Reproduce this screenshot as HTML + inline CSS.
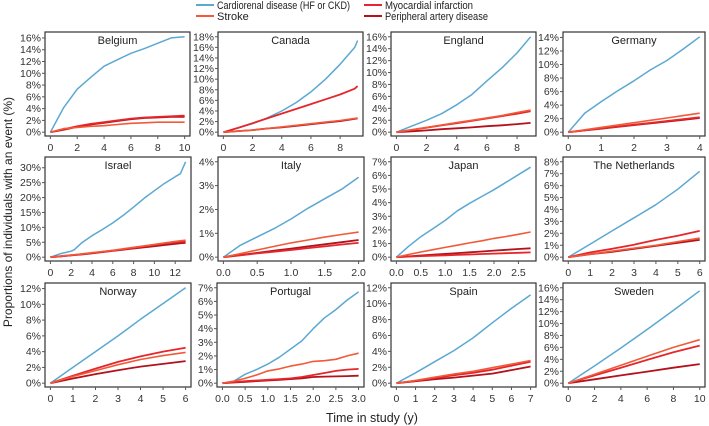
<!DOCTYPE html>
<html><head><meta charset="utf-8">
<style>
html,body{margin:0;padding:0;background:#fff;}
svg{display:block;font-family:"Liberation Sans",sans-serif;}
</style></head>
<body>
<svg id="chart" width="709" height="426" viewBox="0 0 709 426">
  <g>
    <g><line x1="196" y1="5" x2="214" y2="5" stroke="#5ba8d2" stroke-width="2"/><text x="217" y="9" font-size="11" textLength="133" lengthAdjust="spacingAndGlyphs" fill="#222">Cardiorenal disease (HF or CKD)</text></g>
    <g><line x1="196" y1="16" x2="214" y2="16" stroke="#f2593a" stroke-width="2"/><text x="217" y="20" font-size="11" fill="#222">Stroke</text></g>
    <g><line x1="364" y1="5" x2="382" y2="5" stroke="#e5262a" stroke-width="2"/><text x="385" y="9" font-size="11" textLength="88" lengthAdjust="spacingAndGlyphs" fill="#222">Myocardial infarction</text></g>
    <g><line x1="364" y1="16" x2="382" y2="16" stroke="#b3111b" stroke-width="2"/><text x="385" y="20" font-size="11" textLength="103" lengthAdjust="spacingAndGlyphs" fill="#222">Peripheral artery disease</text></g>
  </g>
  <text transform="translate(12,212) rotate(-90)" text-anchor="middle" font-size="12" fill="#222">Proportions of individuals with an event (%)</text>
  <text x="372" y="422" text-anchor="middle" font-size="12.5" fill="#222">Time in study (y)</text>
  <g id="panels"></g>
</svg>
<script>
// Panel data (values in %)
const countries = ["Belgium","Canada","England","Germany","Israel","Italy","Japan","The Netherlands","Norway","Portugal","Spain","Sweden"];
const timePoints = [
 [0,1,2,3,4,5,6,7,8,9,10],
 [0,1,2,3,4,5,6,7,8,9,9.2],
 [0,1,2,3,4,5,6,7,8,8.9],
 [0,0.5,1,1.5,2,2.5,3,3.5,4],
 [0,1,2,2.3,3,4,5,6,7,8,9,10,11,12,12.5,13],
 [0,0.25,0.5,0.75,1,1.25,1.5,1.75,2],
 [0,0.25,0.5,0.75,1,1.25,1.5,1.75,2,2.25,2.5,2.75],
 [0,1,2,3,4,5,6],
 [0,1,2,3,4,5,6],
 [0,0.25,0.5,0.75,1,1.25,1.5,1.75,2,2.25,2.5,2.75,3],
 [0,1,2,3,4,5,6,7],
 [0,2,4,6,8,10]
];
const cardiorenal = [
 [0,4.2,7.3,9.3,11.2,12.3,13.4,14.2,15.1,16.0,16.2],
 [0,0.8,1.6,2.7,4.0,5.6,7.6,10,12.8,16,17.3],
 [0,1.0,2.0,3.1,4.6,6.3,8.6,10.8,13.3,16],
 [0,2.8,4.5,6.1,7.6,9.2,10.6,12.3,14.1],
 [0,1.2,2.0,2.5,4.8,7.2,9.3,11.5,14,16.8,19.7,22.3,24.8,27,28,32],
 [0,0.5,0.85,1.2,1.6,2.05,2.45,2.85,3.35],
 [0,0.8,1.5,2.1,2.7,3.4,3.95,4.45,4.95,5.5,6.05,6.6],
 [0,1.1,2.2,3.3,4.4,5.7,7.2],
 [0,2.0,4.0,6.0,8.1,10.1,12.1],
 [0,0.15,0.65,1.0,1.4,1.9,2.5,3.1,4.0,4.8,5.4,6.1,6.7],
 [0,1.3,2.7,4.1,5.7,7.6,9.4,11.1],
 [0,2.9,5.9,9.0,12.2,15.5]
];
const stroke = [
 [0,0.6,0.8,1.0,1.1,1.3,1.5,1.6,1.7,1.7,1.7],
 [0,0.2,0.4,0.7,1.0,1.3,1.6,1.9,2.2,2.6,2.7],
 [0,0.4,0.8,1.2,1.6,2.0,2.4,2.8,3.3,3.7],
 [0,0.35,0.7,1.05,1.4,1.75,2.1,2.45,2.8],
 [0,0.35,0.7,0.8,1.1,1.5,1.9,2.3,2.8,3.3,3.8,4.3,4.8,5.3,5.5,5.7],
 [0,0.15,0.3,0.45,0.6,0.72,0.84,0.95,1.05],
 [0,0.2,0.38,0.55,0.72,0.88,1.05,1.2,1.38,1.52,1.68,1.85],
 [0,0.25,0.5,0.75,1.0,1.3,1.6],
 [0,0.85,1.6,2.35,3.0,3.5,3.9],
 [0,0.15,0.35,0.6,0.9,1.05,1.25,1.4,1.6,1.65,1.75,2.0,2.2],
 [0,0.35,0.75,1.15,1.5,1.95,2.4,2.85],
 [0,1.5,3.0,4.5,6.0,7.3]
];
const myocardial = [
 [0,0.5,1.0,1.4,1.7,2.0,2.3,2.5,2.6,2.7,2.8],
 [0,0.8,1.7,2.6,3.5,4.4,5.3,6.2,7.1,8.2,8.7],
 [0,0.38,0.75,1.15,1.5,1.9,2.3,2.7,3.1,3.5],
 [0,0.27,0.55,0.82,1.1,1.37,1.65,1.92,2.2],
 [0,0.3,0.65,0.75,1.0,1.4,1.8,2.2,2.6,3.1,3.6,4.1,4.6,5.0,5.2,5.3],
 [0,0.08,0.16,0.23,0.3,0.38,0.45,0.53,0.6],
 [0,0.04,0.08,0.11,0.14,0.17,0.2,0.23,0.26,0.29,0.32,0.35],
 [0,0.4,0.7,1.05,1.45,1.8,2.2],
 [0,0.95,1.85,2.7,3.4,4.0,4.5],
 [0,0.08,0.15,0.2,0.25,0.3,0.35,0.45,0.6,0.75,0.9,1.0,1.05],
 [0,0.3,0.65,1.0,1.3,1.7,2.2,2.7],
 [0,1.3,2.6,3.9,5.2,6.3]
];
const peripheral = [
 [0,0.4,0.9,1.3,1.6,1.9,2.2,2.4,2.5,2.6,2.6],
 [0,0.2,0.4,0.7,0.9,1.2,1.5,1.8,2.1,2.5,2.6],
 [0,0.15,0.3,0.5,0.65,0.8,1.0,1.15,1.35,1.55],
 [0,0.26,0.52,0.78,1.05,1.3,1.57,1.83,2.1],
 [0,0.3,0.6,0.7,0.9,1.3,1.7,2.1,2.5,2.9,3.3,3.7,4.1,4.5,4.7,4.8],
 [0,0.09,0.18,0.27,0.36,0.45,0.54,0.63,0.72],
 [0,0.06,0.12,0.18,0.24,0.3,0.36,0.42,0.48,0.54,0.6,0.65],
 [0,0.25,0.45,0.7,0.95,1.2,1.45],
 [0,0.6,1.15,1.65,2.1,2.45,2.8],
 [0,0.05,0.1,0.15,0.2,0.25,0.3,0.35,0.45,0.48,0.5,0.52,0.55],
 [0,0.25,0.5,0.7,0.95,1.2,1.65,2.1],
 [0,0.65,1.3,1.95,2.6,3.2]
];
const xTicks = [
 [0,2,4,6,8,10],[0,2,4,6,8],[0,2,4,6,8],[0,1,2,3,4],
 [0,2,4,6,8,10,12],[0,0.5,1,1.5,2],[0,0.5,1,1.5,2,2.5],[0,1,2,3,4,5,6],
 [0,1,2,3,4,5,6],[0,0.5,1,1.5,2,2.5,3],[0,1,2,3,4,5,6,7],[0,2,4,6,8,10]
];
const xTickDecimals = [0,0,0,0,0,1,1,0,0,1,0,0];
const yTicks = [
 [0,2,4,6,8,10,12,14,16],[0,2,4,6,8,10,12,14,16,18],[0,2,4,6,8,10,12,14,16],[0,2,4,6,8,10,12,14],
 [0,5,10,15,20,25,30],[0,1,2,3,4],[0,1,2,3,4,5,6,7],[0,1,2,3,4,5,6,7,8],
 [0,2,4,6,8,10,12],[0,1,2,3,4,5,6,7],[0,2,4,6,8,10,12],[0,2,4,6,8,10,12,14,16]
];
// layout boxes
const boxL = [45,218,391,563, 45,218,391,563, 45,217,391,563];
const boxR = [190,363,536,705, 191,364,536,705, 191,364,536,705];
const rowT = [32,157,283];
const rowB = [136,261,387];

const NS="http://www.w3.org/2000/svg";
const root=document.getElementById('panels');
function mk(tag,attrs,parent){const e=document.createElementNS(NS,tag);for(const k in attrs)e.setAttribute(k,attrs[k]);parent.appendChild(e);return e;}
const seriesList=[["cardiorenal",cardiorenal,"#5ba8d2",1.5],["peripheral",peripheral,"#b3111b",1.8],["myocardial",myocardial,"#e5262a",1.8],["stroke",stroke,"#f2593a",1.6]];

countries.forEach((name,i)=>{
  const L=boxL[i],R=boxR[i],T=rowT[Math.floor(i/4)],B=rowB[Math.floor(i/4)];
  const xs=timePoints[i];
  const xmax=Math.max(xs[xs.length-1],xTicks[i][xTicks[i].length-1]);
  const xlo=-0.04*xmax, xhi=xmax*1.04;
  let dmax=0; seriesList.forEach(s=>s[1][i].forEach(v=>{if(v>dmax)dmax=v;}));
  const top=Math.max(dmax,yTicks[i][yTicks[i].length-1]);
  const yhi=top*1.05, ylo=-0.04*top;
  const X=v=>L+(v-xlo)/(xhi-xlo)*(R-L);
  const Y=v=>B-(v-ylo)/(yhi-ylo)*(B-T);
  const g=mk('g',{},root);
  
  
  const frame=mk('rect',{x:L,y:T,width:R-L,height:B-T,fill:'#fff',stroke:'#333','stroke-width':1.2},g);
  
  
  const title=mk('text',{x:(L+R)/2,y:T+12,'text-anchor':'middle','font-size':11,fill:'#222'},g);
  title.textContent=name;
  
  
  yTicks[i].forEach(t=>{
    const y=Y(t);
    mk('line',{x1:L-3,x2:L,y1:y,y2:y,stroke:'#555','stroke-width':1},g);
    const tx=mk('text',{x:L-4,y:y+3.5,'text-anchor':'end','font-size':10.5,fill:'#333'},g);
    tx.textContent=t+'%';
    
    
  });
  xTicks[i].forEach(t=>{
    const x=X(t);
    mk('line',{x1:x,x2:x,y1:B,y2:B+3,stroke:'#555','stroke-width':1},g);
    const tx=mk('text',{x:x,y:B+15,'text-anchor':'middle','font-size':10.5,fill:'#333'},g);
    tx.textContent=t.toFixed(xTickDecimals[i]);
    
    
  });
  seriesList.forEach(s=>{
    const vals=s[1][i];
    const d=vals.map((v,k)=>(k?'L':'M')+X(xs[k]).toFixed(1)+','+Y(v).toFixed(1)).join(' ');
    const p=mk('path',{d:d,fill:'none',stroke:s[2],'stroke-width':s[3],'stroke-linejoin':'round'},g);
    
    
  });
});
</script>
</body></html>
